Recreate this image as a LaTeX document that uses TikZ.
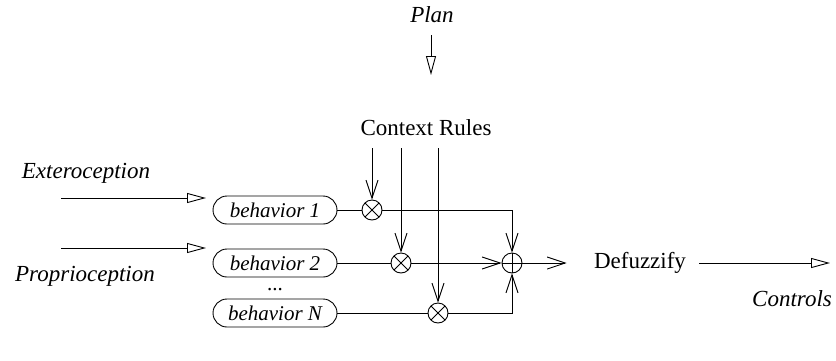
\documentclass[tikz,border=0pt]{standalone}
\usepackage{fontspec}
\setmainfont{Liberation Serif}
\usetikzlibrary{arrows.meta}
\begin{document}
\begin{tikzpicture}[x=1pt,y=-1pt,line width=0.9pt,
  lbl/.style={font=\fontsize{23}{27}\selectfont, inner sep=0pt, anchor=base},
  ilbl/.style={lbl, font=\fontsize{23}{27}\selectfont\itshape},
  behav/.style={draw, rounded corners=14pt, minimum width=124pt, minimum height=28pt,
    inner sep=0pt, font=\fontsize{21}{24}\selectfont\itshape},
  op/.style={draw, circle, minimum size=20pt, inner sep=0pt},
  otimes/.style={op, path picture={
    \draw (path picture bounding box.north west) -- (path picture bounding box.south east)
          (path picture bounding box.north east) -- (path picture bounding box.south west);}},
  oplus/.style={op, path picture={
    \draw (path picture bounding box.north) -- (path picture bounding box.south)
          (path picture bounding box.west) -- (path picture bounding box.east);}},
  barb/.style={-{Straight Barb[length=18pt,width=12pt]}},
  tri/.style={-{Triangle[open,length=19pt,width=10pt]}}]
\useasboundingbox (0,0) rectangle (836,360);

% plan input
\node[ilbl] (plan) at (432,22) {Plan};
\coordinate (plana) at (431,35);
\coordinate (planb) at (431,75);
\draw[tri] (plana) -- (planb);

% context rules feeding the weighting operators
\node[lbl] (ctx) at (426,135) {Context Rules};
\coordinate (c1) at (372,148);
\coordinate (c2) at (401,148);
\coordinate (c3) at (438,148);

% sensor inputs
\node[ilbl] (extero) at (86,178) {Exteroception};
\coordinate (ea) at (61,198);
\coordinate (eb) at (206,198);
\draw[tri] (ea) -- (eb);
\node[ilbl] (proprio) at (85,281) {Proprioception};
\coordinate (pa) at (61,248);
\coordinate (pb) at (206,248);
\draw[tri] (pa) -- (pb);

% behaviors
\node[behav] (b1) at (275,210) {behavior 1};
\node[behav] (b2) at (275,263) {behavior 2};
\node[font=\fontsize{21}{24}\selectfont, inner sep=0pt] (dots) at (275,290) {...};
\node[behav] (bn) at (275,313) {behavior N};

% weighting and combination
\node[otimes] (m1) at (372,210) {};
\node[otimes] (m2) at (401,263) {};
\node[otimes] (mn) at (438,313) {};
\node[oplus] (sum) at (512,263) {};

\draw[barb] (c1) -- (m1);
\draw[barb] (c2) -- (m2);
\draw[barb] (c3) -- (mn);

\draw (b1) -- (m1);
\draw (b2) -- (m2);
\draw (bn) -- (mn);

\draw[barb] (m1) -| (sum);
\draw[barb] (m2) -- (sum);
\draw[barb] (mn) -| (sum);

% defuzzification and output
\node[lbl, anchor=center] (defz) at (640,263) {Defuzzify};
\draw[barb, shorten >=27pt] (sum) -- (defz);
\coordinate (out) at (830,263);
\draw[tri, shorten <=13pt] (defz) -- (out);
\node[ilbl] (ctrl) at (792,306) {Controls};
\end{tikzpicture}
\end{document}
